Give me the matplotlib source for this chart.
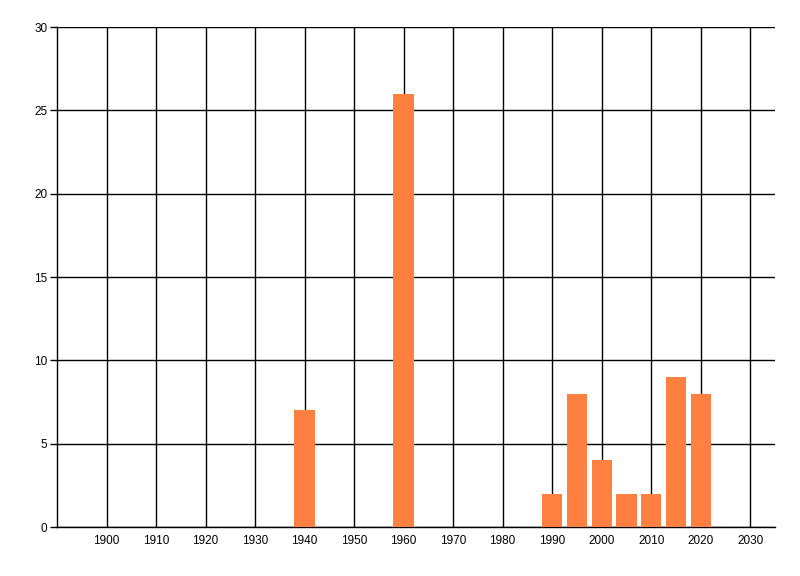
import matplotlib
matplotlib.use("Agg")
import matplotlib.pyplot as plt

years = [1940, 1960, 1990, 1995, 2000, 2005, 2010, 2015, 2020]
counts = [7, 26, 2, 8, 4, 2, 2, 9, 8]
xticks = list(range(1900, 2031, 10))
yticks = [0, 5, 10, 15, 20, 25, 30]

plt.rcParams["font.family"] = ["Liberation Sans", "DejaVu Sans"]
fig = plt.figure(figsize=(8, 5.76), dpi=100)
ax = fig.add_axes([57 / 800, 1 - 527 / 576, (775 - 57) / 800, 500 / 576])

ax.bar(years, counts, width=4.1, color="#FF8040", zorder=3)

ax.set_xlim(1890, 2035)
ax.set_ylim(0, 30)
ax.set_xticks(xticks)
ax.set_yticks(yticks)
ax.grid(True, color="black", linewidth=1, zorder=1)
for s in ["top", "right"]:
    ax.spines[s].set_visible(False)
ax.spines["left"].set_linewidth(1)
ax.spines["bottom"].set_linewidth(1)
ax.tick_params(axis="x", length=0, pad=6, labelsize=8.5)
ax.tick_params(axis="y", length=5, width=1, pad=2, labelsize=8.5)

fig.savefig("out.png", dpi=100)
